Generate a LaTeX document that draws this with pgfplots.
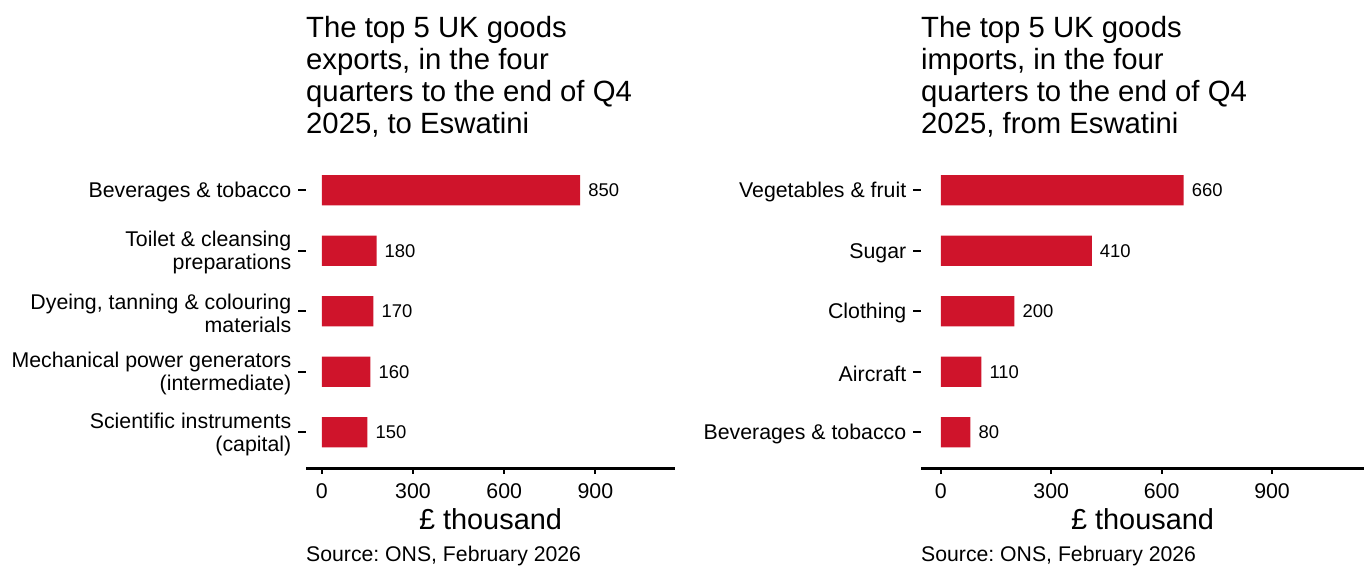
\documentclass[border=0pt]{standalone}
\usepackage{fontspec}
\setmainfont{Liberation Sans}
\usepackage{pgfplots}
\pgfplotsset{compat=1.18}

\definecolor{onsred}{RGB}{207,20,43}

\pgfplotsset{
  topfive/.style={
    xbar, bar width=30.3bp, bar shift=0pt,
    scale only axis, height=314.6bp,
    ymin=0.4, ymax=5.6, y dir=reverse,
    ytick={1,2,3,4,5},
    axis x line*=bottom, axis y line*=left,
    y axis line style={draw=none},
    x axis line style={line width=2.3bp},
    xtick={0,300,600,900},
    tick align=outside,
    tick style={line width=2.2bp, black},
    xtick style={/pgfplots/major tick length=5bp},
    ytick style={/pgfplots/major tick length=8bp},
    ticklabel style={font=\fontsize{21.4}{23}\selectfont},
    yticklabel style={align=right, xshift=-7bp, yshift=-2bp},
    xticklabel style={yshift=-7bp},
    /pgf/number format/assume math mode=true,
    xlabel={£ thousand},
    xlabel style={font=\fontsize{29}{32}\selectfont, at={(axis description cs:0.5,0)},
      anchor=base, yshift=-60.7bp, inner sep=0pt},
    point meta=x,
    nodes near coords,
    nodes near coords style={font=\fontsize{18.5}{20}\selectfont, anchor=west,
      inner sep=0pt, xshift=8bp, black},
  },
}
\tikzset{
  charttitle/.style={anchor=north west, align=left, inner sep=0pt,
    font=\fontsize{29.4}{32}\selectfont},
  chartsource/.style={anchor=base west, inner sep=0pt, font=\fontsize{21.3}{25}\selectfont},
}

\begin{document}
\frenchspacing
\begin{tikzpicture}[x=1bp,y=1bp]
\path[use as bounding box] (0,0) rectangle (1364,567);

% exports
\begin{axis}[topfive, at={(306bp,98.4bp)}, anchor=south west, width=369bp,
  xmin=-52, xmax=1162,
  yticklabels={{Beverages \& tobacco},{Toilet \& cleansing\\preparations},
    {Dyeing, tanning \& colouring\\materials},
    {Mechanical power generators\\(intermediate)},
    {Scientific instruments\\(capital)}}]
\addplot[fill=onsred, draw=none] coordinates {(850,1) (180,2) (170,3) (160,4) (150,5)};
\end{axis}
\node[charttitle] at (306,550.8) {The top 5 UK goods\\exports, in the four\\quarters to the end of Q4\\2025, to Eswatini};
\node[chartsource] at (306,5.3) {Source: ONS, February 2026};

% imports
\begin{axis}[topfive, at={(921bp,98.4bp)}, anchor=south west, width=443bp,
  xmin=-54, xmax=1150,
  yticklabels={{Vegetables \& fruit},{Sugar},{Clothing},{Aircraft},{Beverages \& tobacco}}]
\addplot[fill=onsred, draw=none] coordinates {(660,1) (410,2) (200,3) (110,4) (80,5)};
\end{axis}
\node[charttitle] at (921,550.8) {The top 5 UK goods\\imports, in the four\\quarters to the end of Q4\\2025, from Eswatini};
\node[chartsource] at (921,5.3) {Source: ONS, February 2026};
\end{tikzpicture}
\end{document}
